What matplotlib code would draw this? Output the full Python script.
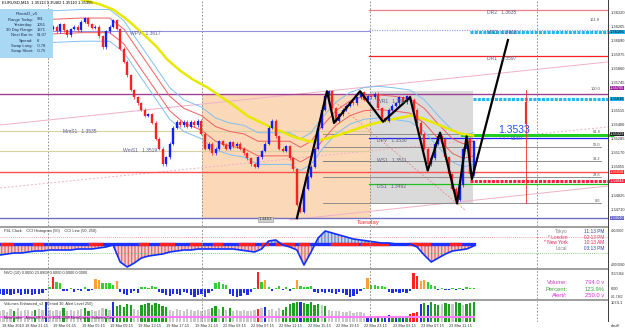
import matplotlib.pyplot as plt
from matplotlib.patches import Rectangle

plt.rcParams['font.family'] = ['Liberation Sans', 'DejaVu Sans']

W, H = 625, 332

# ---- price data (15 min bars, one close every 2 bars) ----
closes = [1.3619, 1.3621, 1.3618, 1.3620, 1.3623, 1.3618, 1.3617, 1.3621, 1.3622, 1.3618,
          1.3616, 1.3620, 1.3621, 1.3618, 1.3619, 1.3621, 1.3617, 1.3623, 1.3618, 1.3614,
          1.3619, 1.3621, 1.3618, 1.3625, 1.3628, 1.3623, 1.3620, 1.3621, 1.3613, 1.3604,
          1.3617, 1.3621, 1.3626, 1.3619, 1.3603, 1.3592, 1.3581, 1.3569, 1.3563, 1.3558,
          1.3553, 1.3548, 1.3549, 1.3542, 1.3529, 1.3521, 1.3508, 1.3514, 1.3525, 1.3538,
          1.3543, 1.3540, 1.3543, 1.3539, 1.3543, 1.3540, 1.3544, 1.3533, 1.3521, 1.3525,
          1.3517, 1.3521, 1.3527, 1.3524, 1.3521, 1.3526, 1.3523, 1.3525, 1.3521, 1.3517,
          1.3513, 1.3508, 1.3506, 1.3514, 1.3519, 1.3525, 1.3538, 1.3544, 1.3531, 1.3521,
          1.3519, 1.3523, 1.3513, 1.3504, 1.3475, 1.3469, 1.3488, 1.3498, 1.3506, 1.3521,
          1.3538, 1.3553, 1.3564, 1.3568, 1.3554, 1.3544, 1.3549, 1.3553, 1.3556, 1.3559,
          1.3558, 1.3563, 1.3567, 1.3561, 1.3564, 1.3563, 1.3566, 1.3554, 1.3546, 1.3544,
          1.3553, 1.3556, 1.3558, 1.3563, 1.3559, 1.3564, 1.3561, 1.3553, 1.3542, 1.3533,
          1.3521, 1.3508, 1.3513, 1.3525, 1.3531, 1.3529, 1.3514, 1.3500, 1.3488, 1.3479,
          1.3491, 1.3521, 1.3529, 1.3500, 1.3527]
bar_step = 2

# moving averages
yellow_bars = [34, 43.6, 56.6, 64, 71.9, 81, 88.8, 94.5, 101.8, 109.2, 117.7, 131.8, 140.3,
               151, 165.8, 175.4, 185, 194, 207.6, 219, 233.7, 243.3, 251.8, 260.3, 267.6]
yellow_ma = [1.36525, 1.36442, 1.36392, 1.3635, 1.36267, 1.3615, 1.36042, 1.35942, 1.3585,
             1.35775, 1.35708, 1.35567, 1.35475, 1.354, 1.35308, 1.35267, 1.35292, 1.35333,
             1.354, 1.35442, 1.35483, 1.35433, 1.35383, 1.35333, 1.35317]
band_bars = [30, 46, 62, 70, 78, 88, 96, 104, 114, 122, 130, 138, 146, 156, 164, 170, 176,
             182, 190, 198, 206, 214, 222, 232, 240, 248, 256, 262, 268]
red_up = [1.3627, 1.3628, 1.3628, 1.3619, 1.3602, 1.3581, 1.3564, 1.3554, 1.3548, 1.3539,
          1.3535, 1.3533, 1.3527, 1.3527, 1.3527, 1.3522, 1.3527, 1.3539, 1.3552, 1.3560,
          1.3564, 1.3565, 1.3564, 1.3562, 1.3554, 1.3541, 1.3529, 1.3525, 1.3527]
red_lo = [1.3615, 1.3616, 1.3616, 1.3607, 1.3590, 1.3569, 1.3552, 1.3542, 1.3536, 1.3527,
          1.3523, 1.3521, 1.3515, 1.3515, 1.3515, 1.3510, 1.3515, 1.3527, 1.3540, 1.3548,
          1.3552, 1.3553, 1.3552, 1.3550, 1.3542, 1.3529, 1.3517, 1.3513, 1.3515]
blue_up = [1.3634, 1.3635, 1.3635, 1.3626, 1.3609, 1.3588, 1.3571, 1.3561, 1.3555, 1.3546,
           1.3542, 1.3540, 1.3534, 1.3534, 1.3534, 1.3529, 1.3534, 1.3546, 1.3559, 1.3567,
           1.3571, 1.3572, 1.3571, 1.3569, 1.3561, 1.3548, 1.3536, 1.3532, 1.3534]
blue_lo = [1.3608, 1.3609, 1.3609, 1.3600, 1.3583, 1.3562, 1.3545, 1.3535, 1.3529, 1.3520,
           1.3516, 1.3514, 1.3508, 1.3508, 1.3508, 1.3503, 1.3508, 1.3520, 1.3533, 1.3541,
           1.3545, 1.3546, 1.3545, 1.3543, 1.3535, 1.3522, 1.3510, 1.3506, 1.3508]

# zigzag pivots
zz_bars = [168, 185, 189, 203.7, 216.7, 232, 242, 249, 258.6, 264, 267, 287.4]
zz_price = [1.3464, 1.3568, 1.3542, 1.3568, 1.3543, 1.3563, 1.3503, 1.3534, 1.3476, 1.3531,
            1.3496, 1.3610]

# trend lines (bar, price) pairs
trend_solid = [((0, 1.35403), (344, 1.3592)), ((164, 1.34625), (344, 1.34903))]
trend_dotted = ((0, 1.34887), (344, 1.35387))
trend_red = ((186.7, 1.35625), (263, 1.34707))

# pivot levels: name, price, start bar, colour, label bar
pivots = [("DR2", 1.3635, 209, "#F08080", 275.5),
          ("MR2", 1.3618, 209, "#A0A0F0", 275.5),
          ("DR1", 1.3597, 209, "#FF2020", 275.5),
          ("DPV", 1.3530, 209, "#2020FF", 213.3),
          ("DS1", 1.3492, 209, "#20C020", 213.3)]
wpv = 1.3617
mms1, wms1, ws1, wr1 = 1.3535, 1.3519, 1.3511, 1.3562

fib_low, fib_high = 1.3476, 1.3568
fib_levels = [0.0, 23.6, 38.2, 50.0, 61.8, 100.0, 161.8]

range_hi, range_lo = 1.3566, 1.3464
red_level = 1.3502

# coloured price boxes on the right axis: price, face, text colour
axis_boxes = [(1.36166, '#20B8F0', 'black'), (1.35705, '#A020A0', 'white'),
              (1.35616, '#20B8F0', 'black'), (1.35329, '#202020', 'white'),
              (1.35018, '#FF2020', 'white'), (1.34944, '#FF2040', 'white'),
              (1.34640, '#6060C0', 'white')]

# CCI (every 4 bars)
cci = [-220, -200, -180, -180, -160, -140, -140, -120, -120, -120, -120, -100, -100, -100,
       -80, -60, -20, -360, -460, -380, -280, -240, -220, -200, -160, -140, -120, -120,
       -100, -100, -100, -100, -100, -100, -120, -140, -160, -100, 60, 80, -20, -60, -120,
       -420, -160, 120, 260, 220, 180, 140, 100, 80, 60, 40, 20, 20, 0, 0, 0, -60, -220,
       -360, -280, -200, -140, -120, -100, -40]
cci_red = [(1, 7), (19, 24), (51, 57), (79, 83), (91, 98), (108, 113), (121, 125), (136, 143),
           (149, 151), (157, 166), (170, 174), (188, 202), (205, 219), (232, 243), (255, 260)]

# NVO histogram (every 2 bars)
nvo = [-50, -55, -45, -60, -50, -40, -55, -50, -45, -60, -50, -45, -40, -10, 20, 115, 70, 55,
       -20, -15, 10, -25, -10, -20, 15, -15, -10, 100, 90, 60, 55, 60, 40, 75,
       -30, -45, -60, -40, -20, -35, 15, 20, 10, 25, 15, -25, -40, -55, -70, -50, -45, -60,
       -30, -40, -55, -75, -60, -45, -80, -35, -20, 60, 70, 50, 40,
       -50, -65, -80, -70, -40, -55, -30, 10, 160, 65, 90, 20, -15, 10, 25, -10, 15, -20, 10,
       85, 30, 20, 15, 25, -30, -35, -25, -40, -30, -35, -45, -30, -40, -60, -80, -70, -50,
       -20, 10, 105, 40, 35, 30, 25, 20, -30, -35, -25, -40, -30, -35, -20, 150, 120, 80, 85,
       70, 40, 30, -10, 5, -10, -5, 10, -10, 5, -5, 15, 10, 5]

# Volumes (every 2 bars) and colour code g=grey G=green b=blue r=red
volume = [560, 600, 520, 640, 580, 700, 550, 620, 590, 540, 610, 680, 600, 1000,
          620, 560, 600, 540, 700, 580, 620, 560, 600, 650, 720, 580, 600, 560, 620, 700, 640, 600,
          1010, 820, 880, 760, 900, 850, 640, 600,
          860, 920, 950, 880, 960, 900, 840, 780,
          620, 580, 650, 600, 560, 640, 600, 580, 620, 560, 600, 640,
          720, 800, 680, 760, 620, 700, 560, 600, 540, 620, 580, 560,
          600, 680, 720, 760, 600, 640, 580, 700, 620, 760,
          900, 960, 1020, 1040, 980, 920, 1000, 880, 900, 860, 820,
          600, 560, 540, 580, 520, 500, 560, 480, 520, 500, 460,
          250, 300, 280, 320, 260, 300, 340, 280, 300, 260, 320, 280,
          420, 480, 520, 900, 960, 880, 1000, 940,
          860, 920, 980, 900, 940, 1000, 960, 880, 920, 980, 1000]
vol_colors = ("ggggGgggggGgg" + "b" + "ggggGgggggGGggggGg" + "b" + "GGGGG" + "gg" + "GGGGGGGG"
              + "gggggggggggg" + "GGgGgG" + "gggggg" + "g" + "r" + "gb" + "ggggGG" + "GGGbGGG"
              + "GGgG" + "ggggggggggg" + "bbGbGbbGbGbG" + "rrr" + "bGbGG" + "GgGGgGGgGGG")
alert_level = 250

time_labels = ["18 Mar 2010", "18 Mar 21:15", "19 Mar 01:15", "19 Mar 05:15", "19 Mar 09:15",
               "19 Mar 13:15", "19 Mar 17:15", "19 Mar 21:15", "22 Mar 03:15", "22 Mar 07:15",
               "22 Mar 11:15", "22 Mar 15:15", "22 Mar 19:15", "22 Mar 23:15", "23 Mar 03:15",
               "23 Mar 07:15", "23 Mar 11:15"]
time_label_bars = [0] + [13 + 16 * k for k in range(16)]
separator_bars = [27.2, 114.3, 209.3, 303.8]

# axis numbers that are not hidden under a coloured box
price_ticks = [1.36320, 1.36205, 1.36090, 1.35975, 1.35860, 1.35745, 1.35515,
               1.35400, 1.35285, 1.35170, 1.35055, 1.34825, 1.34710]

info_lines = [("Range Today:", "931"), ("Yesterday:", "1051"), ("30 Day Range:", "1371"),
              ("Next Bar In:", "01:07"), ("Spread:", "8"), ("Swap Long:", "-0.78"),
              ("Swap Short:", "-0.75")]
clock = [("Tokyo", "11:13 PM", "#808080", "#3040B0"),
         ("* London", "02:13 PM", "#E04070", "#E04070"),
         ("* New York", "10:13 AM", "#E02050", "#E02050"),
         ("Local", "03:13 PM", "#808080", "#3040B0")]

NBARS = 344  # bars across the plot width (608 px)
fig = plt.figure(figsize=(W / 100, H / 100), dpi=100)


def px_axes(x0, y0, x1, y1):
    ax = fig.add_axes([x0 / W, 1 - y1 / H, (x1 - x0) / W, (y1 - y0) / H])
    ax.set_xlim(0, NBARS)
    ax.axis('off')
    return ax


FS = 3.6     # pivot / level labels
SM = 2.8     # indicator captions, time axis
AX = 2.9     # right axis numbers
AXS = 2.3    # long right axis numbers
TXT = '#303030'

# ---------------- main chart ----------------
ax = px_axes(0, 0, 608, 226)
ax.set_ylim(1.34575, 1.36428)

ax.add_patch(Rectangle((114.3, range_lo), 209.3 - 114.3, range_hi - range_lo,
                       facecolor='#FBD8B8', edgecolor='none', zorder=0))
ax.add_patch(Rectangle((209.3, fib_low), 267.6 - 209.3, 1.3568 - fib_low,
                       facecolor='#DADADA', edgecolor='none', zorder=0))
for b in separator_bars:
    ax.axvline(b, color='#808080', lw=0.6, ls=(0, (2, 2)), zorder=1)

# trend lines
for (x0, y0), (x1, y1) in trend_solid:
    ax.plot([x0, x1], [y0, y1], color='#F0B0C8', lw=0.7, zorder=1)
(x0, y0), (x1, y1) = trend_dotted
ax.plot([x0, x1], [y0, y1], color='#F0B0C8', lw=0.7, ls=(0, (2, 2)), zorder=1)
(x0, y0), (x1, y1) = trend_red
ax.plot([x0, x1], [y0, y1], color='#F08080', lw=0.6, ls=(0, (2, 2)), zorder=1)

# horizontal levels
ax.axhline(range_hi, color='#A04090', lw=1.0, zorder=2)
ax.axhline(range_lo, color='#7070C0', lw=1.0, zorder=2)
ax.axhline(red_level, color='#FF5050', lw=1.0, zorder=2)
ax.plot([0, 209.3], [mms1, mms1], color='#D8D0A0', lw=0.8, zorder=1)
ax.plot([0, 209.3], [wms1, wms1], color='#D8D0A0', lw=0.8, zorder=1)
ax.plot([27.2, 209.3], [wpv, wpv], color='#9090E0', lw=0.8, zorder=1)
ax.plot([182.7, 209.3], [ws1, ws1], color='#808080', lw=0.6, zorder=1)

for name, p, b0, c, lb in pivots:
    ax.plot([b0, 344], [p, p], color=c, lw=0.9, zorder=2,
            ls=(0, (1, 1)) if name == "MR2" else '-')
    ax.text(lb, p, f"{name}   {p:.4f}", fontsize=FS, color='#606080', va='top', zorder=6)
ax.text(213.3, wr1, f"WR1   {wr1:.4f}", fontsize=FS, color='#606080', va='top', zorder=6)
ax.text(213.3, ws1, f"WS1   {ws1:.4f}", fontsize=FS, color='#606080', va='center', zorder=6)
ax.text(73.6, wpv, f"WPV   {wpv:.4f}", fontsize=FS, color='#6060A0', va='top', zorder=6)
ax.text(35.6, mms1, f"MmS1   {mms1:.4f}", fontsize=FS, color='#6060A0', va='center', zorder=6)
ax.text(69.6, wms1, f"WmS1   {wms1:.4f}", fontsize=FS, color='#6060A0', va='center', zorder=6)

# fibonacci
for lv in fib_levels:
    p = fib_low + (fib_high - fib_low) * lv / 100
    if lv not in (100.0, 161.8):
        ax.plot([182.7, 340], [p, p], color='#808080', lw=0.6, zorder=2)
    ax.text(339.5, p, f"{lv:.1f}", fontsize=2.8, color='#505050', ha='right', va='bottom', zorder=6)

# thick marker lines on the right
ax.plot([266, 346], [1.36166, 1.36166], color='#20B8F0', lw=2.2, ls=(0, (1, 0.4)), zorder=3, clip_on=False)
ax.plot([267.6, 346], [1.35616, 1.35616], color='#20B8F0', lw=2.2, ls=(0, (1, 0.4)), zorder=3, clip_on=False)
ax.plot([261.4, 346], [1.35321, 1.35321], color='#20D020', lw=2.2, zorder=3, clip_on=False)
ax.plot([266, 349], [1.34944, 1.34944], color='#FF2040', lw=2.2, ls=(0, (1, 0.4)), zorder=3, clip_on=False)
ax.plot([297.6, 297.6], [1.3569, 1.3476], color='#F03030', lw=0.6, zorder=3)
ax.plot([297.6, 297.6], [1.3558, 1.3542], color='#F03030', lw=1.6, zorder=3)

# moving averages
ax.plot(band_bars, blue_up, color='#80C0F0', lw=0.7, zorder=3)
ax.plot(band_bars, blue_lo, color='#80C0F0', lw=0.7, zorder=3)
ax.plot(band_bars, red_up, color='#F06060', lw=0.7, zorder=3)
ax.plot(band_bars, red_lo, color='#F06060', lw=0.7, zorder=3)
ax.plot(yellow_bars, yellow_ma, color='#E8E800', lw=1.8, zorder=4)

# candles
for j in range(1, len(closes)):
    o, c = closes[j - 1], closes[j]
    col = '#1020FF' if c >= o else '#FF2020'
    x = j * bar_step
    ax.vlines(x, min(o, c) - 0.00012, max(o, c) + 0.00012, color=col, lw=0.5, zorder=4)
    ax.vlines(x, min(o, c), max(o, c), color=col, lw=1.7, zorder=4)

ax.plot(zz_bars, zz_price, color='black', lw=1.6, zorder=5)

# labels
ax.text(291, 1.35321, "1.3533", fontsize=7.5, color='#2050F0', ha='center', va='bottom', zorder=6)
ax.text(292.6, 1.3531, "01:07", fontsize=FS, color='#4060C0', ha='center', va='top', zorder=6)
ax.text(202, 1.3460, "Tuesday", fontsize=4.3, color='#F03030', va='center', zorder=6)
ax.text(150, 1.3463, "1.3463", fontsize=3.2, color='#303030', ha='center', va='center', zorder=6,
        bbox=dict(boxstyle='square,pad=0.15', fc='#D0D0D0', ec='#909090', lw=0.4))

# right axis numbers and coloured boxes
for p in price_ticks:
    ax.text(345.5, p, f"{p:.5f}", fontsize=AX, color=TXT, va='center', clip_on=False)
for p, fc, tc in axis_boxes:
    ax.text(345, p, f"{p:.5f}", fontsize=AX, color=tc, va='center', clip_on=False, zorder=7,
            bbox=dict(boxstyle='square,pad=0.05', fc=fc, ec='none'))

# info box
fig.patches.append(Rectangle((0, 1 - 58 / H), 53 / W, 49 / H, transform=fig.transFigure,
                             facecolor='#A8D8F4', edgecolor='none', zorder=10))
fig.text(27 / W, 1 - 13 / H, "PivotsD_v5", fontsize=3.2, ha='center', va='center', color='#203050', zorder=11)
for i, (k, v) in enumerate(info_lines):
    y = 1 - (19.5 + i * 5.3) / H
    fig.text(33 / W, y, k, fontsize=3.0, ha='right', va='center', color='#203050', zorder=11)
    fig.text(37 / W, y, v, fontsize=3.0, ha='left', va='center', color='#203050', zorder=11)
fig.text(2 / W, 1 - 3 / H, "EURUSD,M15  1.35113 1.35402 1.35110 1.35355", fontsize=3.0,
         va='center', color='black')

# ---------------- CCI panel ----------------
ax2 = px_axes(0, 228, 608, 268)
ax2.set_ylim(-480, 320)
cb = [4 * k for k in range(len(cci))]
ax2.fill_between(cb, 0, cci, where=[v <= 0 for v in cci], interpolate=True,
                 facecolor='#F6D0D0', edgecolor='#E07070', hatch='|||||', lw=0)
ax2.fill_between(cb, 0, cci, where=[v >= 0 for v in cci], interpolate=True,
                 facecolor='#C8D8F0', edgecolor='#7090C8', hatch='|||||', lw=0)
ax2.axhline(140, color='#F08080', lw=0.6, ls=(0, (1, 1.5)))
ax2.axhline(-180, color='#60C060', lw=0.6, ls=(0, (1, 1.5)))
ax2.plot([0, cb[-1]], [0, 0], color='#2030FF', lw=2.4)
for a, b in cci_red:
    ax2.plot([a, b], [0, 0], color='#FF2020', lw=2.4)
ax2.plot(cb, cci, color='#1030FF', lw=1.2)
for b in separator_bars:
    ax2.axvline(b, color='#808080', lw=0.6, ls=(0, (2, 2)))
ax2.text(2, 300, "P4L Clock    CCI Histogram (50)    CCI Line (50, 250)", fontsize=SM,
         va='top', color=TXT)
for i, (name, t, c1, c2) in enumerate(clock):
    y = 250 - i * 115
    ax2.text(321, y, name, fontsize=3.4, color=c1, ha='right', va='center')
    ax2.text(342, y, t, fontsize=3.4, color=c2, ha='right', va='center')
ax2.text(345.5, 270, "400.0000", fontsize=AXS, color=TXT, va='center', clip_on=False)
ax2.text(345.5, -420, "-400.0000", fontsize=AXS, color=TXT, va='center', clip_on=False)

# ---------------- NVO panel ----------------
ax3 = px_axes(0, 270, 608, 299)
ax3.set_ylim(-96, 182)
nb = [bar_step * j for j in range(len(nvo))]
ncol = ['#2030E0' if v < 0 else '#FF2020' if v > 110 else '#FFA030' if v >= 75 else '#30D030'
        for v in nvo]
ax3.bar(nb, nvo, width=1.3, color=ncol, linewidth=0)
for b in separator_bars:
    ax3.axvline(b, color='#808080', lw=0.6, ls=(0, (2, 2)))
ax3.text(2, 175, "NVO (10) 0.0000 23.8908 0.0000 0.0000 0.0000", fontsize=SM,
         va='top', color=TXT)
for i, (k, v, c) in enumerate([("Volume:", "794.0 v", '#D040D0'), ("Percent:", "123.9%", '#40A040'),
                               ("Alert/:", "250.0 v", '#E020E0')]):
    y = 60 - i * 62
    ax3.text(321, y, k, fontsize=4.2, color=c, ha='right', va='center')
    ax3.text(342, y, v, fontsize=4.2, color=c, ha='right', va='center')
ax3.text(345.5, 140, "153.5364", fontsize=AXS, color=TXT, va='center', clip_on=False)
ax3.text(345.5, 0, "0.00", fontsize=AX, color=TXT, va='center', clip_on=False)
ax3.text(345.5, -80, "-91.7362", fontsize=AXS, color=TXT, va='center', clip_on=False)

# ---------------- Volumes panel ----------------
ax4 = px_axes(0, 301, 608, 322)
ax4.set_ylim(0, 1074)
cmap = {'g': '#C8C8C8', 'G': '#20A020', 'b': '#2030E0', 'r': '#FF2020'}
vb = [bar_step * j for j in range(len(volume))]
ax4.bar(vb, volume, width=1.3, color=[cmap[c] for c in vol_colors], linewidth=0)
ax4.plot([0, vb[-1]], [alert_level, alert_level], color='#FF80FF', lw=1.5)
for b in separator_bars:
    ax4.axvline(b, color='#808080', lw=0.6, ls=(0, (2, 2)))
ax4.text(2, 1040, "Volumes Enhanced_v2  (Period 30, Alert Level 250)", fontsize=SM,
         va='top', color=TXT)
ax4.text(2, 230, "MetaTrader - Alpari UK Ltd. \u00a9 2001-2009 MetaQuotes Software Corp.",
         fontsize=2.6, va='center', color='#202020')
ax4.text(345.5, 950, "1074.1", fontsize=AX, color=TXT, va='center', clip_on=False)
ax4.text(345.5, -200, "dbuff", fontsize=AX, color=TXT, va='center', clip_on=False)

# time axis
for b, lab in zip(time_label_bars, time_labels):
    fig.text((b * 608 / NBARS + 2) / W, 1 - 326 / H, lab, fontsize=SM, va='center', color=TXT)

# panel separators and right axis line
for y0 in (226, 268, 299):
    fig.patches.append(Rectangle((0, 1 - (y0 + 2) / H), 608 / W, 2 / H, transform=fig.transFigure,
                                 facecolor='#A0A0A0', edgecolor='none', zorder=9))
fig.patches.append(Rectangle((608 / W, 1 - 322 / H), 0.8 / W, 322 / H, transform=fig.transFigure,
                             facecolor='#404040', edgecolor='none', zorder=9))

fig.savefig("out.png", dpi=100, facecolor='white')
